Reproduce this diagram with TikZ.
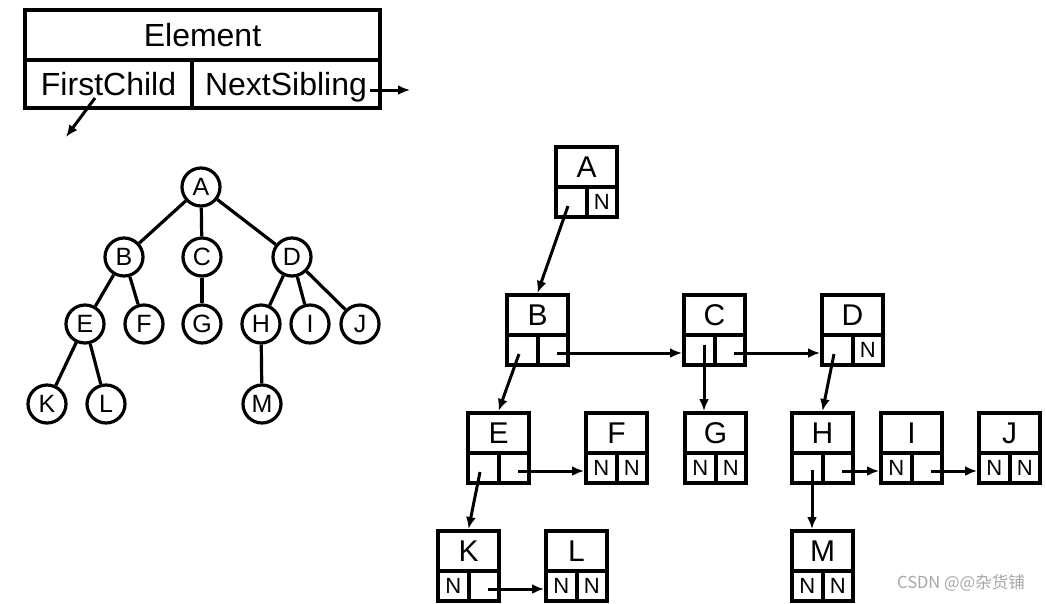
\documentclass[tikz,border=0pt]{standalone}
\usepackage{fontspec}
\setmainfont{Liberation Sans}
\newfontfamily\cjk{Noto Sans CJK SC}
\usepackage{xcolor}
\usepackage{tikz}
\usetikzlibrary{arrows.meta}

\tikzset{
  circulo/.style={draw, circle, line width=3.2pt, minimum size=38pt, inner sep=0pt, font=\fontsize{25}{25}\selectfont},
  arista/.style={line width=3.2pt},
  celdasup/.style={draw, line width=4pt, minimum width=61pt, minimum height=40pt, inner sep=0pt, font=\fontsize{30}{30}\selectfont},
  celda/.style={draw, line width=4pt, minimum width=30.5pt, minimum height=30pt, inner sep=0pt, font=\fontsize{22}{22}\selectfont},
  campo/.style={draw, line width=4pt, inner sep=0pt, font=\fontsize{32}{32}\selectfont},
  flecha/.style={-{Latex[length=12pt,width=10pt]}, line width=3pt},
}

% caja: nombre, x izq, y sup, etiqueta, hijo, hermano
\newcommand{\caja}[6]{%
  \node[celdasup] (#1) at (#2+30.5,#3+20) {#4};
  \node[celda] (#1l) at (#2+15.25,#3+55) {#5};
  \node[celda] (#1r) at (#2+45.75,#3+55) {#6};
  \coordinate (#1c) at (#2+12,#3+59);
  \coordinate (#1h) at (#2+50,#3+58);
}

\begin{document}
\begin{tikzpicture}[x=1pt, y=-1pt]
  \useasboundingbox (0,0) rectangle (1046,603);

  % Estructura del elemento
  \node[campo, minimum width=355pt, minimum height=50pt] (elem) at (202.5,35) {Element};
  \node[campo, minimum width=167pt, minimum height=48pt] (fc) at (108.5,84) {FirstChild};
  \node[campo, minimum width=188pt, minimum height=48pt, text depth=0pt] (ns) at (286,84) {NextSibling};
  \coordinate (fcini) at (95,98);
  \coordinate (fcfin) at (66,137);
  \coordinate (nsini) at (370,90);
  \coordinate (nsfin) at (410,90);
  \draw[flecha] (fcini) -- (fcfin);
  \draw[flecha] (nsini) -- (nsfin);

  % Arbol
  \node[circulo] (tA) at (201,187) {A};
  \node[circulo] (tB) at (124,257) {B};
  \node[circulo] (tC) at (202,257) {C};
  \node[circulo] (tD) at (292,257) {D};
  \node[circulo] (tE) at (85,324) {E};
  \node[circulo] (tF) at (144,324) {F};
  \node[circulo] (tG) at (202,324) {G};
  \node[circulo] (tH) at (261,324) {H};
  \node[circulo] (tI) at (310,324) {I};
  \node[circulo] (tJ) at (360,324) {J};
  \node[circulo] (tK) at (47,404) {K};
  \node[circulo] (tL) at (106,404) {L};
  \node[circulo] (tM) at (262,404) {M};
  \draw[arista] (tA) -- (tB);
  \draw[arista] (tA) -- (tC);
  \draw[arista] (tA) -- (tD);
  \draw[arista] (tB) -- (tE);
  \draw[arista] (tB) -- (tF);
  \draw[arista] (tC) -- (tG);
  \draw[arista] (tD) -- (tH);
  \draw[arista] (tD) -- (tI);
  \draw[arista] (tD) -- (tJ);
  \draw[arista] (tE) -- (tK);
  \draw[arista] (tE) -- (tL);
  \draw[arista] (tH) -- (tM);

  % Representacion hijo-hermano
  \caja{A}{556}{147}{A}{}{N}
  \caja{B}{507}{295}{B}{}{}
  \caja{C}{684}{295}{C}{}{}
  \caja{D}{822}{295}{D}{}{N}
  \caja{E}{468}{413}{E}{}{}
  \caja{F}{586}{413}{F}{N}{N}
  \caja{G}{685}{413}{G}{N}{N}
  \caja{H}{792}{413}{H}{}{}
  \caja{I}{881}{413}{I}{N}{}
  \caja{J}{979}{413}{J}{N}{N}
  \caja{K}{438}{531}{K}{N}{}
  \caja{L}{546}{531}{L}{N}{N}
  \caja{M}{792}{531}{M}{N}{N}
  \coordinate (Cv) at (704,345);
  \coordinate (Hv) at (812,470);

  % Enlaces
  \draw[flecha] (Ac) -- (B.north);
  \draw[flecha] (Bh) -- (Bh -| Cl.west);
  \draw[flecha] (Ch) -- (Ch -| Dl.west);
  \draw[flecha] (Bc) -- (E.north);
  \draw[flecha] (Cv) -- (Cv |- G.north);
  \draw[flecha] (Dc) -- (H.north);
  \draw[flecha] (Eh) -- (Eh -| Fl.west);
  \draw[flecha] (Ec) -- (K.north);
  \draw[flecha] (Kh) -- (Kh -| Ll.west);
  \draw[flecha] (Hh) -- (Hh -| Il.west);
  \draw[flecha] (Ih) -- (Ih -| Jl.west);
  \draw[flecha] (Hv) -- (Hv |- M.north);

  % Marca
  \node[text=gray!70, font=\cjk\fontsize{16.5}{16.5}\selectfont] (marca) at (961,583) {CSDN @@杂货铺};
\end{tikzpicture}
\end{document}
